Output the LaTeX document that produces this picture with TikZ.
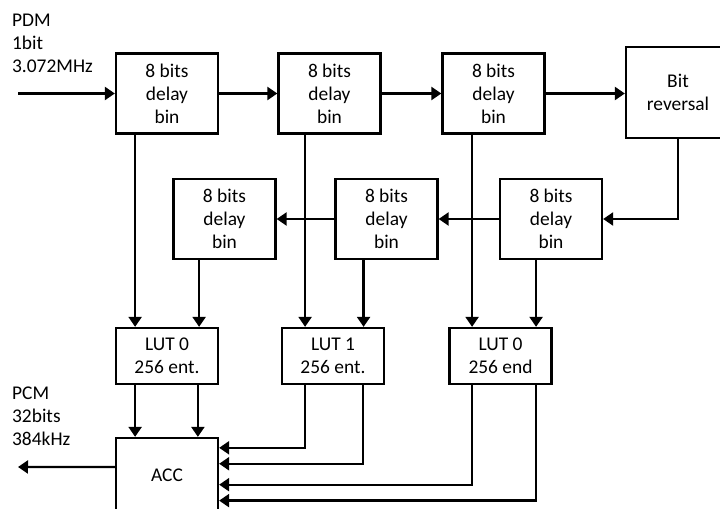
\documentclass[tikz,border=0pt]{standalone}
\usepackage{fontspec}
\setmainfont{Carlito}
\usetikzlibrary{arrows.meta}
\tikzset{sc/.style={x=1bp,y=-1bp,line width=2.3bp,font=\fontsize{19.5}{23}\selectfont},
  blk/.style={draw,align=center,inner sep=0pt},
  dly/.style={blk,minimum width=102bp,minimum height=80bp},
  lut/.style={blk,minimum width=102bp,minimum height=56bp},
  arr/.style={-{Triangle[length=10bp,width=13bp]}}}

\begin{document}
\begin{tikzpicture}[sc]
  \useasboundingbox (0,0) rectangle (720,509);
  \clip (0,0) rectangle (720,509);
  % top row
  \node[dly] (d1) at (167,93.5) {8 bits\\delay\\bin};
  \node[dly] (d2) at (329.5,93.5) {8 bits\\delay\\bin};
  \node[dly] (d3) at (493.5,93.5) {8 bits\\delay\\bin};
  \node[blk,minimum width=104bp,minimum height=91bp] (br) at (678,92.5) {Bit\\reversal};
  % middle row
  \node[dly] (m1) at (224.5,219) {8 bits\\delay\\bin};
  \node[dly] (m2) at (386.5,219) {8 bits\\delay\\bin};
  \node[dly] (m3) at (551,219) {8 bits\\delay\\bin};
  % tables and accumulator
  \node[lut] (l0) at (167,356) {LUT 0\\256 ent.};
  \node[lut] (l1) at (333,356) {LUT 1\\256 ent.};
  \node[lut] (l2) at (500.5,356) {LUT 0\\256 end};
  \node[blk,minimum width=102bp,minimum height=74bp] (acc) at (167,475) {ACC};
  \node[anchor=north west,align=left,inner sep=0pt] (pdmlbl) at (11,13) {PDM\\1bit\\3.072MHz};
  \node[anchor=north west,align=left,inner sep=0pt] (pcmlbl) at (11,386) {PCM\\32bits\\384kHz};
  \coordinate (pdm) at (18,93.5);
  \coordinate (pcm) at (18,467);
  % chain
  \draw[arr] (pdm) -- (d1);
  \draw[arr] (d1) -- (d2);
  \draw[arr] (d2) -- (d3);
  \draw[arr] (d3.east) -- (d3.east -| br.west);
  \draw[arr] (br.south) |- (m3.east);
  \draw[arr] (m3) -- (m2);
  \draw[arr] (m2) -- (m1);
  \foreach \s/\o/\t in {d1/-32/l0,m1/-25.5/l0,d2/-24.5/l1,m2/-23/l1,d3/-21.5/l2,m3/-15/l2}
    {\draw[arr] ([xshift=\o]\s.south) -- ([xshift=\o]\s.south |- \t.north);}
  % into ACC
  \foreach \o in {-32,31}{\draw[arr] ([xshift=\o]l0.south) -- ([xshift=\o]l0.south |- acc.north);}
  \foreach \o/\t/\y in {-28/l1/-11,30/l1/-27,-28.5/l2/-48,35.5/l2/-64}
    {\draw[arr] ([xshift=\o]\t.south) |- ([yshift=\y]acc.north east);}
  \draw[arr] ([yshift=8]acc.west) -- (pcm);
\end{tikzpicture}
\end{document}
